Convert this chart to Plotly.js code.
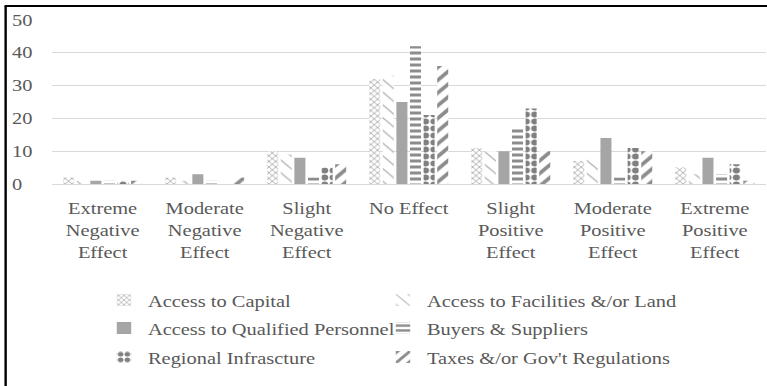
<!DOCTYPE html>
<html>
<head>
<meta charset="utf-8">
<script src="https://cdn.plot.ly/plotly-3.0.1.min.js"></script>
<style>
  html, body { margin: 0; padding: 0; background: #fff; overflow: hidden; }
  #wrap { width: 767px; height: 386px; overflow: hidden; position: relative; }
  /* the chart is laid out narrow and widened to the page, like the original export */
  #chart { width: 639px; height: 386px; transform-origin: 0 0; }
</style>
</head>
<body>
<div id="wrap"><div id="chart"></div></div>
<script>
// Survey responses by effect level
const categories = [
  "Extreme<br>Negative<br>Effect",
  "Moderate<br>Negative<br>Effect",
  "Slight<br>Negative<br>Effect",
  "No Effect",
  "Slight<br>Positive<br>Effect",
  "Moderate<br>Positive<br>Effect",
  "Extreme<br>Positive<br>Effect"
];

const seriesNames = [
  "Access to Capital",
  "Access to Facilities &/or Land",
  "Access to Qualified Personnel",
  "Buyers & Suppliers",
  "Regional Infrascture",
  "Taxes &/or Gov't Regulations"
];

const accessToCapital     = [2, 2, 10, 32, 11, 7, 5];
const accessToFacilities  = [1, 1, 9, 33, 10, 8, 3];
const qualifiedPersonnel  = [1, 3, 8, 25, 10, 14, 8];
const buyersSuppliers     = [1, 1, 2, 42, 17, 2, 3];
const regionalInfra       = [1, 0, 5, 21, 23, 11, 6];
const taxesRegulations    = [1, 2, 6, 36, 10, 10, 1];

const yTicks = [0, 10, 20, 30, 40, 50];

// ---- geometry (layout pixels before horizontal widening) ----
const PAGE_W = 767, PAGE_H = 386;
const W = 639, H = 386;
const SX = PAGE_W / W;
const M = { l: 43.3, r: 0.8, t: 20, b: 202 };
const plotW = W - M.l - M.r, plotH = H - M.t - M.b;
const px2paperX = px => (px - M.l) / plotW;
const px2paperY = py => (H - M.b - py) / plotH;

document.getElementById('chart').style.transform = 'scale(' + SX + ',1)';

const FONT = '"Liberation Serif", "Times New Roman", serif';
const TEXT = '#595959';

const styles = [
  { color: '#a6a6a6', pattern: { shape: 'x',  size: 4, solidity: 0.35, bgcolor: '#ffffff' } },
  { color: '#b8b8b8', pattern: { shape: '\\', size: 9, solidity: 0.14, bgcolor: '#ffffff' } },
  { color: '#a5a5a5', pattern: { shape: '' } },
  { color: '#8c8c8c', pattern: { shape: '-',  size: 6, solidity: 0.5, bgcolor: '#ffffff' } },
  { color: '#808080', pattern: { shape: '.',  size: 7, solidity: 0.55, bgcolor: '#ffffff' } },
  { color: '#8c8c8c', pattern: { shape: '/',  size: 9, solidity: 0.38, bgcolor: '#ffffff' } }
];

const values = [accessToCapital, accessToFacilities, qualifiedPersonnel,
                buyersSuppliers, regionalInfra, taxesRegulations];

const legendIds = ['legend', 'legend2', 'legend3', 'legend4', 'legend5', 'legend6'];

const traces = values.map((v, i) => ({
  type: 'bar',
  name: seriesNames[i],
  x: categories,
  y: v,
  legend: legendIds[i],
  marker: {
    color: styles[i].color,
    pattern: styles[i].pattern,
    line: { width: 0 }
  },
  hoverinfo: 'skip'
}));

// legend entries: two columns, three rows (text start x in page px, row centre y)
const colTextX = [148, 427];
const rowCenterY = [300, 328, 357];
const legends = {};
legendIds.forEach((id, i) => {
  const col = i % 2, row = Math.floor(i / 2);
  const left = colTextX[col] / SX - 40;
  const top = rowCenterY[row] - 17.5;
  legends[id] = {
    xref: 'container', yref: 'container',
    x: left / W, y: 1 - top / H,
    xanchor: 'left', yanchor: 'top',
    orientation: 'v',
    bgcolor: 'rgba(0,0,0,0)', borderwidth: 0,
    font: { family: FONT, size: 17, color: TEXT }
  };
});

// y tick labels, left aligned at the frame edge
const tickAnnotations = yTicks.map(t => ({
  xref: 'paper', yref: 'y',
  x: px2paperX(8.2), y: t,
  xanchor: 'left', yanchor: 'middle',
  text: String(t), showarrow: false,
  font: { family: FONT, size: 17, color: TEXT }
}));

const layout = Object.assign({
  width: W, height: H,
  font: { family: FONT, size: 17, color: TEXT },
  margin: Object.assign({}, M, { pad: 0, autoexpand: false }),
  paper_bgcolor: '#ffffff', plot_bgcolor: '#ffffff',
  barmode: 'group', bargap: 0.2, bargroupgap: 0.19,
  showlegend: true,
  xaxis: {
    type: 'category', showgrid: false, zeroline: false, showline: false,
    ticks: '', ticklabelstandoff: 12,
    tickfont: { family: FONT, size: 17, color: TEXT },
    tickangle: 0, fixedrange: true
  },
  yaxis: {
    range: [0, 50], tickvals: yTicks, showticklabels: false,
    showgrid: true, gridcolor: '#d9d9d9', gridwidth: 1,
    zeroline: true, zerolinecolor: '#d9d9d9', zerolinewidth: 1,
    showline: false, ticks: '', fixedrange: true
  },
  annotations: tickAnnotations,
  shapes: [
    // chart frame: left and top edges
    { type: 'line', xref: 'paper', yref: 'paper',
      x0: px2paperX(6 / SX), x1: px2paperX(6 / SX), y0: px2paperY(6), y1: px2paperY(H + 10),
      line: { color: '#000000', width: 2 } },
    { type: 'line', xref: 'paper', yref: 'paper',
      x0: px2paperX(5 / SX), x1: px2paperX(W + 10), y0: px2paperY(6), y1: px2paperY(6),
      line: { color: '#000000', width: 2 } }
  ]
}, legends);

Plotly.newPlot('chart', traces, layout, { staticPlot: true, displayModeBar: false });
</script>
</body>
</html>
